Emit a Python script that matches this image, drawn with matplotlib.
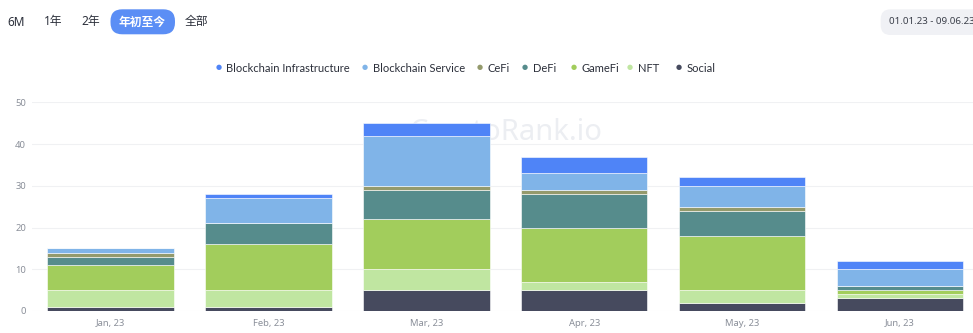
import matplotlib
matplotlib.use("Agg")
import matplotlib.pyplot as plt
from matplotlib.patches import FancyBboxPatch
import numpy as np

plt.rcParams['font.family'] = ['Noto Sans', 'Noto Sans CJK SC', 'DejaVu Sans']

months = ["Jan, 23", "Feb, 23", "Mar, 23", "Apr, 23", "May, 23", "Jun, 23"]
series_names = ["Social", "NFT", "GameFi", "DeFi", "CeFi", "Blockchain Service", "Blockchain Infrastructure"]
social = [1, 1, 5, 5, 2, 3]
nft = [4, 4, 5, 2, 3, 1]
gamefi = [6, 11, 12, 13, 13, 1]
defi = [2, 5, 7, 8, 6, 1]
cefi = [1, 0, 1, 1, 1, 0]
bc_service = [1, 6, 12, 4, 5, 4]
bc_infra = [0, 1, 3, 4, 2, 2]
yticks = [0, 10, 20, 30, 40, 50]
legend_order = ["Blockchain Infrastructure", "Blockchain Service", "CeFi", "DeFi", "GameFi", "NFT", "Social"]
buttons = ["6M", "1年", "2年", "年初至今", "全部"]
date_range = "01.01.23 - 09.06.23"

colors = {
    "Blockchain Infrastructure": "#4f84f7",
    "Blockchain Service": "#80b4e8",
    "CeFi": "#949a6c",
    "DeFi": "#568c8c",
    "GameFi": "#a2cd5c",
    "NFT": "#c0e6a1",
    "Social": "#464a5e",
}
data = {
    "Social": social, "NFT": nft, "GameFi": gamefi, "DeFi": defi,
    "CeFi": cefi, "Blockchain Service": bc_service, "Blockchain Infrastructure": bc_infra,
}

W, H = 973, 333
fig = plt.figure(figsize=(W / 100, H / 100), dpi=100)
fig.patch.set_facecolor("white")

ax = fig.add_axes([31.7 / W, 22 / H, 947.3 / W, 208.7 / H])
ax.set_facecolor("none")

# watermark
ax.text(2.5, 42.7, "CryptoRank.io", fontsize=21, color="#eceef2", ha="center", va="center", zorder=0)

x = np.arange(len(months))
bottom = np.zeros(len(months))
for name in series_names:
    vals = np.array(data[name], dtype=float)
    ax.bar(x, vals, bottom=bottom, width=0.8, color=colors[name],
           edgecolor="white", linewidth=0.4, zorder=2)
    bottom += vals

ax.set_xlim(-0.5, len(months) - 0.5)
ax.set_ylim(0, 50)
ax.set_yticks(yticks)
ax.set_yticklabels([str(v) for v in yticks])
ax.set_xticks(x)
ax.set_xticklabels(months)
ax.tick_params(axis="both", length=0, labelsize=6.8, colors="#8a8f99")
ax.tick_params(axis="y", pad=4)
ax.tick_params(axis="x", pad=6)
ax.grid(axis="y", color="#f0f1f3", linewidth=0.8, zorder=0)
ax.set_axisbelow(True)
for s in ax.spines.values():
    s.set_visible(False)

# legend
legend_dots = [218.3, 365, 479.3, 525, 573.3, 630, 679]
ly = 68
for name, dx in zip(legend_order, legend_dots):
    fig.text(dx / W, 1 - (ly - 1) / H, "●", fontsize=5, color=colors[name], ha="center", va="center",
             family="DejaVu Sans")
    fig.text((dx + 7.7) / W, 1 - ly / H, name, fontsize=8.0, color="#2b2f3a", ha="left", va="center",
             family=["Lato", "DejaVu Sans"])

# top buttons
btn_x = [16, 53.5, 91, 142.5, 196]
for label, bx in zip(buttons, btn_x):
    if label == "年初至今":
        box = FancyBboxPatch((110.5 / W, 1 - 34.3 / H), 64.5 / W, 25 / H,
                             boxstyle="round,pad=0,rounding_size=0.012",
                             transform=fig.transFigure, facecolor="#5b8ef5", edgecolor="none",
                             mutation_aspect=W / H)
        fig.patches.append(box)
        fig.text(bx / W, 1 - 22 / H, label, fontsize=8.5, color="white", ha="center", va="center",
                 weight="bold")
    else:
        fig.text(bx / W, 1 - 22 / H, label, fontsize=8.5, color="#2b2f3a", ha="center", va="center")

# date box
dbox = FancyBboxPatch((880.7 / W, 1 - 35 / H), 110 / W, 25.7 / H,
                      boxstyle="round,pad=0,rounding_size=0.01",
                      transform=fig.transFigure, facecolor="#f0f1f5", edgecolor="none",
                      mutation_aspect=W / H)
fig.patches.append(dbox)
fig.text(889.3 / W, 1 - 22 / H, date_range, fontsize=7, color="#3b3f4a", ha="left", va="center")

fig.savefig("out.png", dpi=100, facecolor="white")
